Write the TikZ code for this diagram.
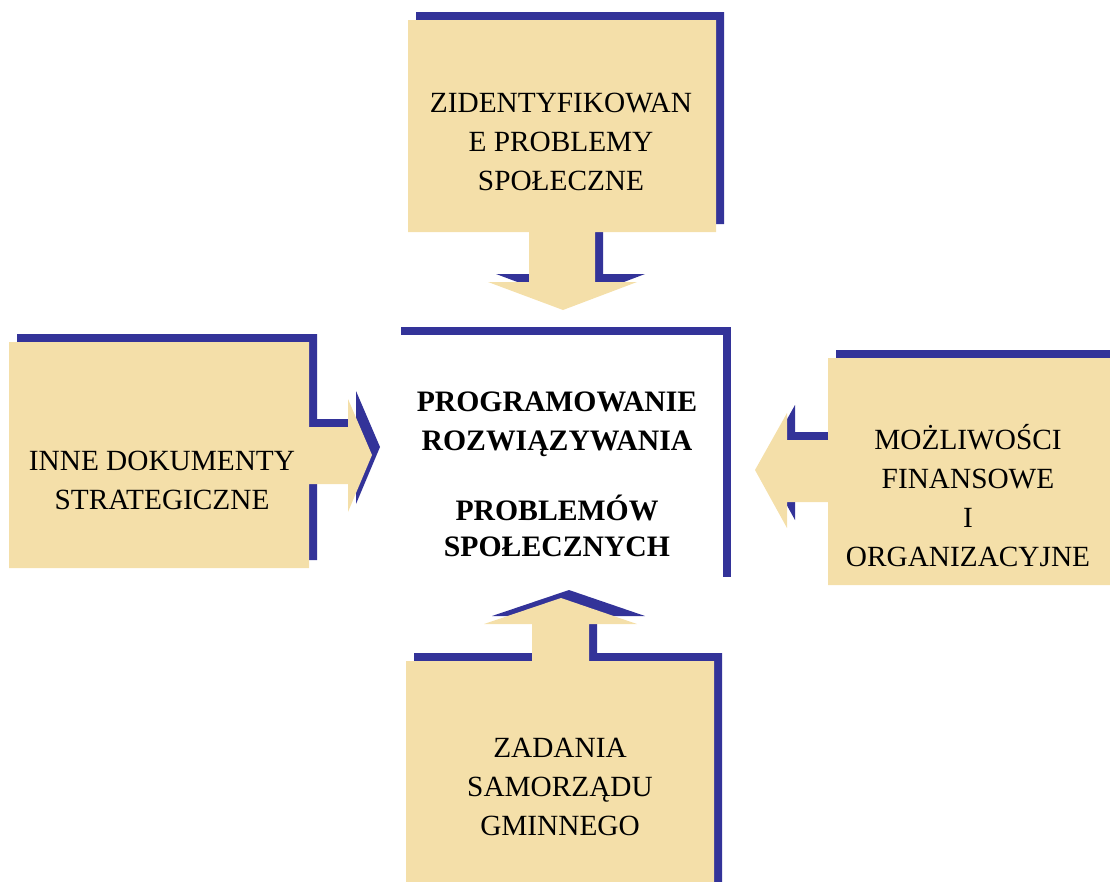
\documentclass[tikz,border=0pt]{standalone}
\usepackage{fontspec}
\setmainfont{Liberation Serif}
\definecolor{tanfill}{HTML}{F4DFA9}
\definecolor{navyshade}{HTML}{333399}

\begin{document}
\begin{tikzpicture}[x=1pt, y=-1pt,
  panel/.style={fill=tanfill, preaction={fill=navyshade, transform canvas={xshift=8pt, yshift=8pt}}},
  core/.style={fill=white, preaction={fill=navyshade, transform canvas={xshift=8pt, yshift=8pt}}},
  boxtext/.style={align=center, inner sep=0pt, font=\fontsize{29.3}{39}\selectfont},
  coretext/.style={align=center, inner sep=0pt, font=\fontsize{29.7}{36}\selectfont\bfseries}
]
\useasboundingbox (0,0) rectangle (1110,881);
\clip (0,0) rectangle (1110,881);

% top block, arrow pointing down
\path[panel] (408,20) -- (716,20) -- (716,232) -- (595,232) -- (595,282) -- (637,282)
  -- (563,310) -- (488,282) -- (529,282) -- (529,232) -- (408,232) -- cycle;
% left block, arrow pointing right
\path[panel] (9,342) -- (309,342) -- (309,427) -- (348,427) -- (348,399) -- (372,455)
  -- (348,512) -- (348,484) -- (309,484) -- (309,568) -- (9,568) -- cycle;
% right block, arrow pointing left
\path[panel] (828,358) -- (1140,358) -- (1140,585) -- (828,585) -- (828,502) -- (787,502)
  -- (787,528) -- (755,470) -- (787,413) -- (787,440) -- (828,440) -- cycle;
% bottom block, arrow pointing up
\path[panel] (406,661) -- (532,661) -- (532,624) -- (484,624) -- (561,598) -- (637,624)
  -- (589,624) -- (589,661) -- (714,661) -- (714,900) -- (406,900) -- cycle;
% centre
\path[core] (393,335) rectangle (723,585);

\node[boxtext] (zid) at (561,142) {ZIDENTYFIKOWAN\\E PROBLEMY\\SPOŁECZNE};
\node[boxtext] (inne) at (162,480) {INNE DOKUMENTY\\STRATEGICZNE};
\node[boxtext] (mozl) at (968,496) {MOŻLIWOŚCI\\FINANSOWE\\I\\ORGANIZACYJNE};
\node[boxtext] (zad) at (560,787) {ZADANIA\\SAMORZĄDU\\GMINNEGO};
\node[coretext] (prog) at (557,474) {PROGRAMOWANIE\\[3pt]ROZWIĄZYWANIA\\[34pt]PROBLEMÓW\\SPOŁECZNYCH};

\end{tikzpicture}
\end{document}
